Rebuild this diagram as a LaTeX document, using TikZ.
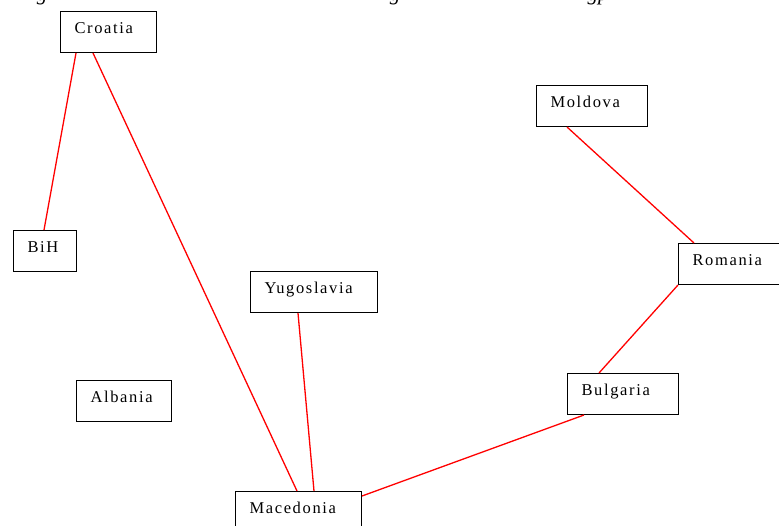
\documentclass[tikz,border=0pt]{standalone}
\usepackage{fontspec}
\setmainfont{Liberation Serif}
\newfontfamily\boxfont{Liberation Serif}[LetterSpace=10]
\begin{document}
\begin{tikzpicture}[x=1pt,y=-1pt,
  country/.style={draw=black, line width=1pt, anchor=north west, inner xsep=14pt, inner ysep=0pt,
    text height=22pt, text depth=19pt, align=left, font=\boxfont\fontsize{16.5}{18}\selectfont},
  link/.style={draw=red, line width=1.3pt},
  captiontail/.style={anchor=base, inner sep=0pt, font=\itshape\fontsize{21}{24}\selectfont}]
\useasboundingbox (0,0) rectangle (779,525);
\clip (0,0) rectangle (779,525);
\fill[white] (0,0) rectangle (779,525);

% tails of the caption line above the frame
\node[captiontail] (c1) at (42,0.5) {g};
\node[captiontail] (c2) at (395,0.5) {g};
\node[captiontail] (c3) at (598,0.5) {gp};

% countries
\node[country, text width=68pt] (cro) at (60,11) {Croatia};
\node[country, text width=35pt] (bih) at (13,230) {BiH};
\node[country, text width=67pt] (alb) at (76,380) {Albania};
\node[country, text width=99pt] (yug) at (250,271) {Yugoslavia};
\node[country, text width=98pt] (mac) at (235,491) {Macedonia};
\node[country, text width=83pt] (mol) at (536,85) {Moldova};
\node[country, text width=83pt] (rom) at (678,243) {Romania};
\node[country, text width=83pt] (bul) at (567,373) {Bulgaria};

% neighbour links
\draw[link] ([xshift=16pt]cro.south west) -- ([xshift=31pt]bih.north west);
\draw[link] ([xshift=33pt]cro.south west) -- ([xshift=62pt]mac.north west);
\draw[link] ([xshift=48pt]yug.south west) -- ([xshift=79pt]mac.north west);
\draw[link] ([yshift=-5pt]mac.north east) -- ([xshift=17pt]bul.south west);
\draw[link] ([xshift=32pt]bul.north west) -- (rom.south west);
\draw[link] ([xshift=31pt]mol.south west) -- ([xshift=16pt]rom.north west);
\end{tikzpicture}
\end{document}
